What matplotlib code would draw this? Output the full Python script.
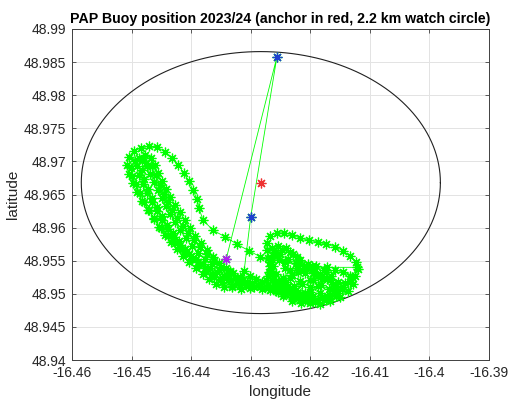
import numpy as np
import matplotlib.pyplot as plt
from matplotlib.ticker import FuncFormatter

plt.rcParams['font.family'] = ['Liberation Sans', 'DejaVu Sans']
plt.rcParams['axes.unicode_minus'] = False

# mooring anchor and watch circle radius
ANCHOR_LON = -16.4283
ANCHOR_LAT = 48.9668
WATCH_KM = 2.2

# special fixes
FIRST_LON, FIRST_LAT = -16.4256, 48.9858
LAST_LON, LAST_LAT = -16.4300, 48.9616
DEPLOY_LON, DEPLOY_LAT = -16.4341, 48.9553

# GPS track of the buoy
track_lon = [
    -16.4341, -16.4256, -16.4300, -16.4311,
    # drift east along the southern edge
    -16.4301, -16.4291, -16.4281, -16.4271, -16.4259, -16.4247, -16.4234, -16.4222, -16.4210, -16.4200,
    # eastern loop
    -16.4187, -16.4172, -16.4158, -16.4145, -16.4133, -16.4125, -16.4120, -16.4123, -16.4133, -16.4145,
    -16.4158, -16.4174, -16.4187, -16.4202, -16.4217, -16.4231, -16.4244, -16.4256, -16.4268, -16.4273,
    -16.4273, -16.4271, -16.4268, -16.4263, -16.4257, -16.4249, -16.4239, -16.4227, -16.4214, -16.4200,
    -16.4264, -16.4251, -16.4237, -16.4224, -16.4210, -16.4197, -16.4184, -16.4172, -16.4162, -16.4157,
    -16.4167, -16.4180, -16.4195, -16.4209, -16.4224, -16.4237, -16.4249, -16.4257, -16.4262, -16.4266,
    -16.4242, -16.4220, -16.4197, -16.4172, -16.4122, -16.4130, -16.4142, -16.4153,
    -16.4167, -16.4184, -16.4200, -16.4217, -16.4231, -16.4242, -16.4252, -16.4259, -16.4254, -16.4241,
    -16.4229, -16.4217, -16.4204, -16.4190, -16.4177, -16.4165, -16.4153, -16.4147, -16.4157, -16.4174,
    -16.4192, -16.4209, -16.4226,
    -16.4242, -16.4254, -16.4264, -16.4269, -16.4268, -16.4261, -16.4247, -16.4234, -16.4222, -16.4210,
    -16.4194, -16.4180, -16.4187, -16.4200, -16.4217, -16.4231, -16.4241,
    # back west
    -16.4268, -16.4281, -16.4294, -16.4308, -16.4321, -16.4333, -16.4345, -16.4357, -16.4368, -16.4380,
    -16.4392,
    # western loop
    -16.4404, -16.4415, -16.4427, -16.4439, -16.4451, -16.4462, -16.4472, -16.4482, -16.4491, -16.4498,
    -16.4504, -16.4508, -16.4504, -16.4496, -16.4484, -16.4471, -16.4457, -16.4444, -16.4432, -16.4422,
    -16.4412, -16.4404, -16.4397, -16.4390, -16.4387,
    -16.4380, -16.4363, -16.4343, -16.4323, -16.4303, -16.4284, -16.4268,
    -16.4266, -16.4274, -16.4288, -16.4301, -16.4316, -16.4331,
    -16.4348, -16.4362, -16.4375, -16.4387, -16.4399, -16.4409, -16.4419, -16.4429, -16.4439, -16.4449,
    -16.4457, -16.4466, -16.4474, -16.4481, -16.4488, -16.4491, -16.4488, -16.4477, -16.4467, -16.4461,
    -16.4456, -16.4449, -16.4442, -16.4435, -16.4427, -16.4419, -16.4410, -16.4402, -16.4393, -16.4383,
    -16.4373, -16.4363, -16.4353, -16.4341, -16.4330, -16.4318,
    -16.4306, -16.4318, -16.4331, -16.4345, -16.4358, -16.4370, -16.4380, -16.4392, -16.4404, -16.4414,
    -16.4424, -16.4434, -16.4444, -16.4454, -16.4462, -16.4471, -16.4479, -16.4486, -16.4493, -16.4499,
    -16.4501, -16.4494, -16.4482, -16.4474, -16.4469, -16.4462, -16.4456, -16.4449, -16.4442, -16.4435,
    -16.4427, -16.4419, -16.4409, -16.4399, -16.4388, -16.4377, -16.4365, -16.4353, -16.4340, -16.4326,
    -16.4338, -16.4352, -16.4365, -16.4377, -16.4388, -16.4400, -16.4410, -16.4420, -16.4430, -16.4440,
    -16.4449, -16.4457, -16.4466, -16.4472, -16.4479, -16.4482, -16.4476, -16.4466, -16.4459, -16.4452,
    -16.4446, -16.4439, -16.4432, -16.4424, -16.4414, -16.4405, -16.4395, -16.4385, -16.4373, -16.4362,
    -16.4350, -16.4335,
    # east again
    -16.4313, -16.4298, -16.4284, -16.4271, -16.4257, -16.4244, -16.4231, -16.4217,
    -16.4200, -16.4184, -16.4167, -16.4150, -16.4137, -16.4128, -16.4133, -16.4145, -16.4158, -16.4174,
    -16.4187, -16.4200, -16.4214, -16.4227, -16.4241, -16.4254, -16.4264,
    -16.4271, -16.4259, -16.4246, -16.4234, -16.4222, -16.4209, -16.4195, -16.4182, -16.4169, -16.4158,
    -16.4167, -16.4180, -16.4194, -16.4207, -16.4220, -16.4234, -16.4246, -16.4257, -16.4246, -16.4231,
    -16.4216, -16.4197,
]
track_lat = [
    48.9553, 48.9858, 48.9616, 48.9535,
    48.9527, 48.9522, 48.9518, 48.9513, 48.9510, 48.9507, 48.9504, 48.9501, 48.9498, 48.9495,
    48.9491, 48.9497, 48.9504, 48.9510, 48.9518, 48.9527, 48.9537, 48.9548, 48.9557, 48.9565,
    48.9571, 48.9575, 48.9578, 48.9581, 48.9584, 48.9589, 48.9592, 48.9592, 48.9587, 48.9577,
    48.9566, 48.9554, 48.9542, 48.9530, 48.9519, 48.9510, 48.9503, 48.9497, 48.9492, 48.9489,
    48.9569, 48.9560, 48.9552, 48.9546, 48.9542, 48.9536, 48.9530, 48.9522, 48.9515, 48.9506,
    48.9498, 48.9495, 48.9497, 48.9501, 48.9506, 48.9512, 48.9519, 48.9530, 48.9542, 48.9554,
    48.9548, 48.9542, 48.9542, 48.9540, 48.9540, 48.9525, 48.9516, 48.9501,
    48.9493, 48.9501, 48.9510, 48.9519, 48.9528, 48.9539, 48.9551, 48.9563, 48.9572, 48.9569,
    48.9560, 48.9551, 48.9545, 48.9542, 48.9536, 48.9527, 48.9518, 48.9507, 48.9497, 48.9491,
    48.9488, 48.9491, 48.9495,
    48.9501, 48.9510, 48.9521, 48.9533, 48.9548, 48.9559, 48.9566, 48.9563, 48.9555, 48.9539,
    48.9531, 48.9522, 48.9512, 48.9503, 48.9500, 48.9506, 48.9518,
    48.9506, 48.9507, 48.9510, 48.9513, 48.9516, 48.9521, 48.9527, 48.9533, 48.9539, 48.9545,
    48.9552,
    48.9560, 48.9568, 48.9577, 48.9587, 48.9599, 48.9613, 48.9627, 48.9640, 48.9654, 48.9667,
    48.9681, 48.9695, 48.9707, 48.9716, 48.9720, 48.9723, 48.9722, 48.9714, 48.9705, 48.9695,
    48.9682, 48.9670, 48.9657, 48.9643, 48.9630,
    48.9611, 48.9596, 48.9586, 48.9575, 48.9565, 48.9556, 48.9548,
    48.9534, 48.9521, 48.9513, 48.9509, 48.9507, 48.9512,
    48.9518, 48.9525, 48.9534, 48.9543, 48.9552, 48.9563, 48.9574, 48.9586, 48.9598, 48.9611,
    48.9625, 48.9639, 48.9652, 48.9666, 48.9679, 48.9693, 48.9705, 48.9710, 48.9705, 48.9695,
    48.9682, 48.9670, 48.9658, 48.9646, 48.9634, 48.9623, 48.9611, 48.9599, 48.9587, 48.9577,
    48.9566, 48.9555, 48.9546, 48.9539, 48.9531, 48.9525,
    48.9518, 48.9513, 48.9510, 48.9510, 48.9515, 48.9522, 48.9530, 48.9539, 48.9548, 48.9557,
    48.9568, 48.9578, 48.9589, 48.9601, 48.9614, 48.9627, 48.9639, 48.9652, 48.9666, 48.9678,
    48.9690, 48.9701, 48.9702, 48.9693, 48.9681, 48.9669, 48.9657, 48.9645, 48.9633, 48.9620,
    48.9608, 48.9596, 48.9584, 48.9572, 48.9562, 48.9552, 48.9545, 48.9536, 48.9528, 48.9524,
    48.9521, 48.9522, 48.9530, 48.9539, 48.9548, 48.9557, 48.9568, 48.9580, 48.9592, 48.9604,
    48.9617, 48.9631, 48.9645, 48.9658, 48.9673, 48.9687, 48.9698, 48.9693, 48.9679, 48.9664,
    48.9651, 48.9639, 48.9627, 48.9614, 48.9602, 48.9592, 48.9581, 48.9571, 48.9560, 48.9549,
    48.9540, 48.9534,
    48.9521, 48.9516, 48.9512, 48.9509, 48.9504, 48.9500, 48.9495, 48.9491,
    48.9486, 48.9484, 48.9489, 48.9495, 48.9504, 48.9515, 48.9527, 48.9533, 48.9536, 48.9533,
    48.9527, 48.9521, 48.9515, 48.9512, 48.9506, 48.9503, 48.9509,
    48.9527, 48.9518, 48.9524, 48.9536, 48.9539, 48.9531, 48.9521, 48.9513, 48.9507, 48.9512,
    48.9521, 48.9527, 48.9533, 48.9537, 48.9533, 48.9524, 48.9515, 48.9506, 48.9497, 48.9489,
    48.9486, 48.9492,
]

XTICKS = [-16.46, -16.45, -16.44, -16.43, -16.42, -16.41, -16.40, -16.39]
YTICKS = [48.94, 48.945, 48.95, 48.955, 48.96, 48.965, 48.97, 48.975, 48.98, 48.985, 48.99]

# asterisk like matlab's '*'
AST = (8, 2, 0)
MS = 7
MEW = 0.9

fig = plt.figure(figsize=(5.08, 4.01), dpi=100)
ax = fig.add_axes([0.1417, 0.1022, 0.8209, 0.8255])

# watch circle drawn around the anchor
theta = np.linspace(0, 2 * np.pi, 361)
dlat = WATCH_KM / 111.19
dlon = dlat / np.cos(np.radians(ANCHOR_LAT))
ax.plot(ANCHOR_LON + dlon * np.cos(theta), ANCHOR_LAT + dlat * np.sin(theta),
        color='#202020', lw=0.8, zorder=2)

ax.plot(track_lon, track_lat, color='#00ff00', lw=0.6, marker=AST, markersize=MS,
        markeredgewidth=MEW, zorder=3)
ax.plot(ANCHOR_LON, ANCHOR_LAT, ls='none', marker=AST, color='#ee3030', markersize=MS,
        markeredgewidth=MEW, zorder=4)
ax.plot([FIRST_LON, LAST_LON], [FIRST_LAT, LAST_LAT], ls='none', marker=AST, color='#2040d0',
        markersize=MS, markeredgewidth=MEW, zorder=4)
ax.plot(DEPLOY_LON, DEPLOY_LAT, ls='none', marker=AST, color='#b020f0', markersize=MS,
        markeredgewidth=MEW, zorder=4)

ax.set_xlim(XTICKS[0], XTICKS[-1])
ax.set_ylim(YTICKS[0], YTICKS[-1])
ax.set_xticks(XTICKS)
ax.set_yticks(YTICKS)
fmt = FuncFormatter(lambda v, p: '%g' % round(v, 4))
ax.xaxis.set_major_formatter(fmt)
ax.yaxis.set_major_formatter(fmt)
ax.grid(True, color='#e3e3e3', lw=0.7)
ax.set_axisbelow(True)
ax.tick_params(direction='in', length=3, width=0.6, color='#404040', labelsize=10,
               labelcolor='#262626', top=True, right=True, pad=4)
for s in ax.spines.values():
    s.set_color('#404040')
    s.set_linewidth(0.7)

ax.set_title('PAP Buoy position 2023/24 (anchor in red, 2.2 km watch circle)',
             fontsize=10.2, fontweight='bold', pad=4)
ax.set_xlabel('longitude', fontsize=11, color='#262626', labelpad=4)
ax.set_ylabel('latitude', fontsize=11, color='#262626', labelpad=3)

fig.savefig('out.png', dpi=100)
